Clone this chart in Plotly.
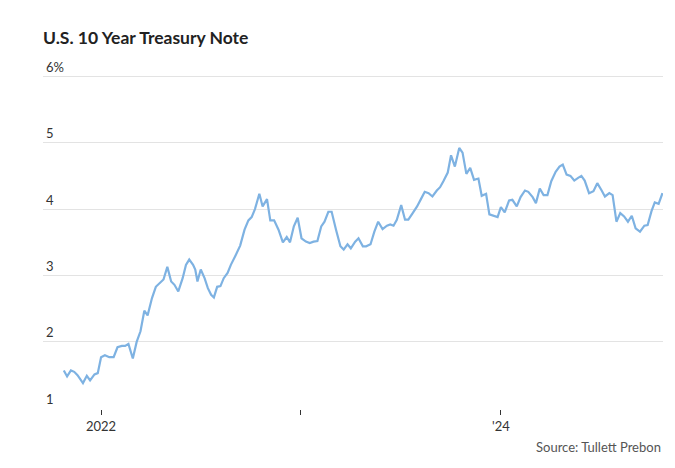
import plotly.graph_objects as go

dates = [
    "2021-10-25", "2021-10-31", "2021-11-07", "2021-11-13", "2021-11-19", "2021-11-24", "2021-11-29",
    "2021-12-06", "2021-12-12", "2021-12-20", "2021-12-26",
    "2022-01-01", "2022-01-08", "2022-01-16", "2022-01-24", "2022-01-31", "2022-02-08", "2022-02-14",
    "2022-02-20", "2022-02-28", "2022-03-07", "2022-03-14", "2022-03-21", "2022-03-27", "2022-04-04",
    "2022-04-11", "2022-04-18", "2022-04-25", "2022-05-02", "2022-05-09", "2022-05-15", "2022-05-22",
    "2022-05-30", "2022-06-05", "2022-06-11", "2022-06-18", "2022-06-22", "2022-06-26", "2022-07-02",
    "2022-07-09", "2022-07-15", "2022-07-21", "2022-07-26", "2022-08-01", "2022-08-07", "2022-08-13",
    "2022-08-20", "2022-08-26", "2022-09-04", "2022-09-12", "2022-09-20", "2022-09-27", "2022-10-03",
    "2022-10-09", "2022-10-17", "2022-10-23", "2022-10-31", "2022-11-06", "2022-11-13", "2022-11-21",
    "2022-11-29", "2022-12-06", "2022-12-12", "2022-12-19", "2022-12-26",
    "2023-01-02", "2023-01-10", "2023-01-17", "2023-01-24", "2023-01-31", "2023-02-07", "2023-02-13",
    "2023-02-20", "2023-02-26", "2023-03-06", "2023-03-14", "2023-03-20", "2023-03-27", "2023-04-02",
    "2023-04-10", "2023-04-16", "2023-04-24", "2023-04-30", "2023-05-08", "2023-05-15", "2023-05-22",
    "2023-05-30", "2023-06-07", "2023-06-13", "2023-06-19", "2023-06-25", "2023-07-03", "2023-07-10",
    "2023-07-16", "2023-07-24", "2023-08-01", "2023-08-08", "2023-08-15", "2023-08-22", "2023-08-29",
    "2023-09-06", "2023-09-12", "2023-09-18", "2023-09-26", "2023-10-02", "2023-10-09", "2023-10-17",
    "2023-10-23", "2023-10-30", "2023-11-06", "2023-11-13", "2023-11-21", "2023-11-27", "2023-12-05",
    "2023-12-11", "2023-12-19", "2023-12-26",
    "2024-01-01", "2024-01-08", "2024-01-16", "2024-01-22", "2024-01-30", "2024-02-06", "2024-02-14",
    "2024-02-20", "2024-02-28", "2024-03-05", "2024-03-12", "2024-03-19", "2024-03-26", "2024-04-02",
    "2024-04-10", "2024-04-17", "2024-04-23", "2024-04-30", "2024-05-07", "2024-05-14", "2024-05-21",
    "2024-05-27", "2024-06-02", "2024-06-10", "2024-06-18", "2024-06-25", "2024-07-03", "2024-07-09",
    "2024-07-17", "2024-07-23", "2024-07-30", "2024-08-06", "2024-08-13", "2024-08-20", "2024-08-27",
    "2024-09-03", "2024-09-11", "2024-09-19", "2024-09-25", "2024-10-02", "2024-10-08", "2024-10-15",
    "2024-10-22",
]

yields = [
    1.57, 1.48, 1.57, 1.55, 1.50, 1.44, 1.38,
    1.49, 1.42, 1.51, 1.53,
    1.77, 1.80, 1.77, 1.77, 1.92, 1.94, 1.94,
    1.97, 1.75, 2.00, 2.16, 2.47, 2.40, 2.66,
    2.83, 2.89, 2.94, 3.13, 2.91, 2.86, 2.76,
    2.96, 3.16, 3.24, 3.16, 3.09, 2.91, 3.09,
    2.96, 2.81, 2.71, 2.67, 2.83, 2.84, 2.96,
    3.04, 3.16, 3.31, 3.45, 3.69, 3.83, 3.88,
    4.00, 4.23, 4.04, 4.15, 3.83, 3.83, 3.69,
    3.50, 3.58, 3.50, 3.74, 3.87,
    3.56, 3.51, 3.49, 3.51, 3.52, 3.74, 3.81,
    3.96, 3.96, 3.69, 3.44, 3.39, 3.47, 3.41,
    3.51, 3.56, 3.44, 3.44, 3.47, 3.66, 3.81,
    3.70, 3.75, 3.77, 3.75, 3.84, 4.06, 3.84,
    3.84, 3.94, 4.04, 4.15, 4.26, 4.24, 4.19,
    4.28, 4.33, 4.42, 4.55, 4.81, 4.64, 4.92,
    4.85, 4.53, 4.62, 4.44, 4.46, 4.20, 4.23,
    3.92, 3.90, 3.88,
    4.03, 3.95, 4.13, 4.14, 4.04, 4.18, 4.28,
    4.26, 4.18, 4.09, 4.31, 4.21, 4.21, 4.42,
    4.56, 4.64, 4.67, 4.52, 4.50, 4.43, 4.47,
    4.50, 4.43, 4.24, 4.27, 4.39, 4.28, 4.19,
    4.24, 4.21, 3.81, 3.94, 3.89, 3.81, 3.90,
    3.71, 3.66, 3.75, 3.76, 3.97, 4.10, 4.08,
    4.24,
]

x_tick_vals = ["2022-01-01", "2023-01-01", "2024-01-01"]
x_tick_text = ["2022", "", "'24"]
y_tick_vals = [1, 2, 3, 4, 5, 6]
y_tick_text = ["1", "2", "3", "4", "5", "6%"]

title_text = "U.S. 10 Year Treasury Note"
source_text = "Source: Tullett Prebon"

FONT = "Lato, 'Open Sans', sans-serif"

fig = go.Figure()
fig.add_trace(go.Scatter(
    x=dates, y=yields, mode="lines",
    line=dict(color="#7EB2E2", width=2.2),
    hoverinfo="skip", showlegend=False, cliponaxis=False,
))

# plot area: y=1 at ~409px, y=6 at ~76px (66.4 px per unit); top padded for the 6% label
PLOT_H = 350

fig.update_layout(
    width=675, height=468,
    margin=dict(l=43, r=12, t=59, b=59),
    paper_bgcolor="white", plot_bgcolor="white",
    font=dict(family=FONT, color="#333333", size=13),
    title=dict(
        text="<b>" + title_text + "</b>",
        x=43 / 675, xanchor="left", y=1 - 38 / 468, yanchor="middle",
        font=dict(family=FONT, size=17.5, color="#222222"),
    ),
    xaxis=dict(
        type="date",
        range=["2021-09-17", "2024-10-23"],
        tickvals=x_tick_vals, ticktext=x_tick_text,
        showgrid=False, zeroline=False,
        showline=False,
        ticks="outside", ticklen=5, tickcolor="#333333", tickwidth=1,
        tickfont=dict(size=13, color="#333333"),
    ),
    yaxis=dict(
        range=[0.99, 6.26],
        tickvals=y_tick_vals, ticktext=y_tick_text,
        showgrid=True, gridcolor="#e3e3e3", gridwidth=1,
        zeroline=False, showline=False, ticks="",
        ticklabelposition="inside top",
        ticklabeloverflow="allow",
        tickfont=dict(size=13, color="#333333"),
    ),
    annotations=[dict(
        text=source_text, xref="paper", yref="paper",
        x=1, xanchor="right", y=-38 / PLOT_H, yanchor="middle",
        showarrow=False, font=dict(family=FONT, size=13, color="#555555"),
    )],
)

fig.write_html(
    "out.html",
    config={"displayModeBar": False, "staticPlot": True},
    post_script="document.body.style.margin='0';",
)
